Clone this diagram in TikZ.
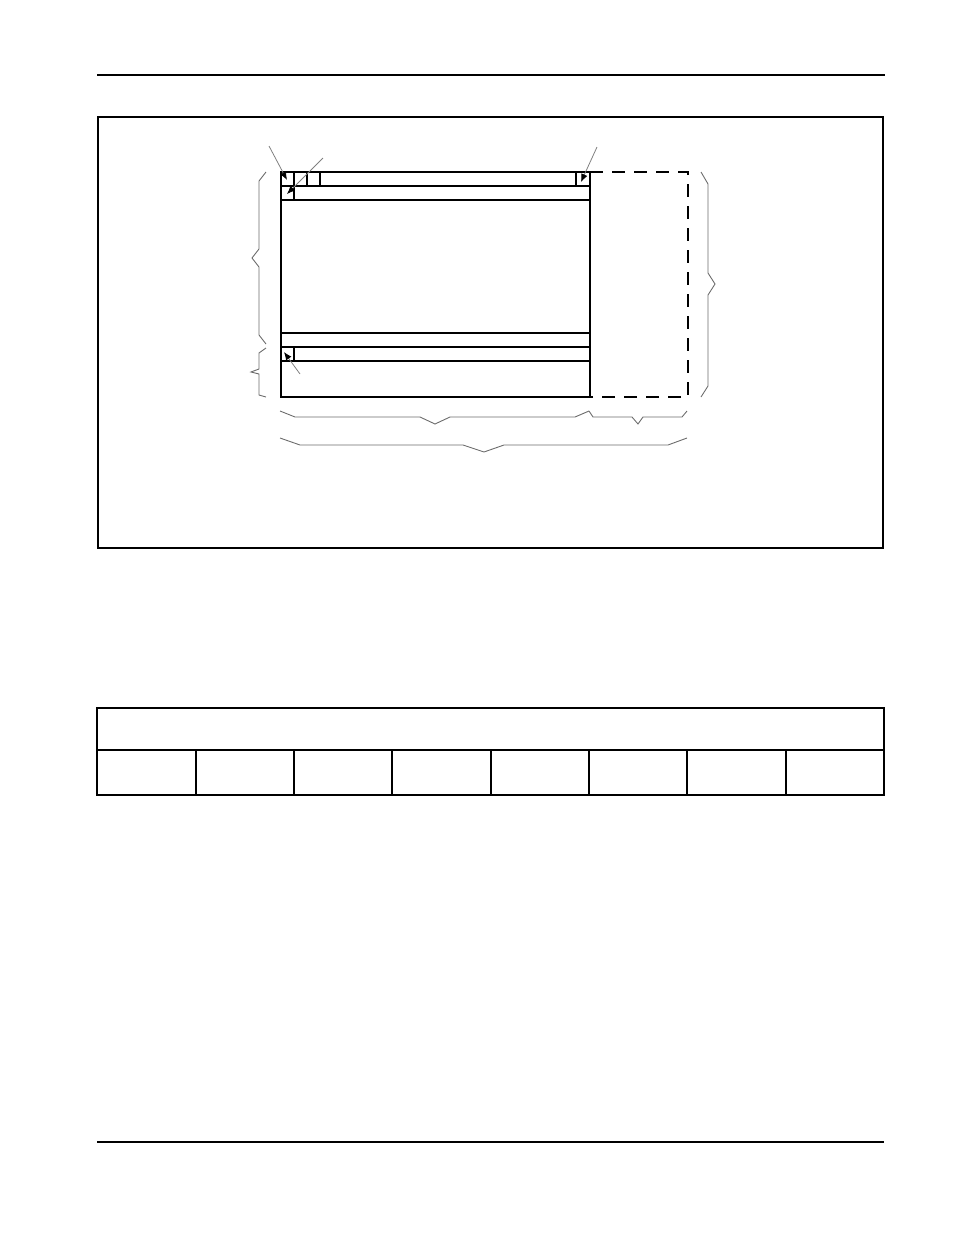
\documentclass[tikz,border=0pt]{standalone}
\usetikzlibrary{arrows.meta}
\begin{document}
\begin{tikzpicture}[x=1pt,y=-1pt,
  frame/.style={draw=black,line width=1.1pt},
  thin/.style={draw=black,line width=1.1pt},
  rule/.style={draw=black,line width=2.5pt},
  brace/.style={draw=gray!85!black,line width=0.9pt,line join=miter},
  dashbox/.style={draw=black,line width=1.3pt,dash pattern=on 13pt off 9pt},
  pointer/.style={draw=gray,line width=0.8pt,-{Latex[black,length=8pt,width=6.5pt]}}]
\useasboundingbox (0,0) rectangle (954,1235);
% page rules
\draw[rule] (97,75) -- (885,75);
\draw[rule] (97,1142) -- (884,1142);
% outer figure box
\draw[frame] (98,117) rectangle (883,548);
% main rectangle
\coordinate (tl) at (281,172);
\coordinate (br) at (590,397);
\draw[thin] (tl) rectangle (br);
\draw[thin] (281,186) -- (590,186);
\draw[thin] (281,200) -- (590,200);
\draw[thin] (294,172) -- (294,200);
\draw[thin] (307,172) -- (307,186);
\draw[thin] (320,172) -- (320,186);
\draw[thin] (576,172) -- (576,186);
\draw[thin] (281,333) -- (590,333);
\draw[thin] (281,347) -- (590,347);
\draw[thin] (281,361) -- (590,361);
\draw[thin] (294,347) -- (294,361);
% dashed extension
\draw[dashbox] (590,172) -- (688,172) -- (688,397) -- (590,397);
% pointers
\coordinate (p1s) at (269,146); \coordinate (p1e) at (287,180);
\coordinate (p2s) at (323,158); \coordinate (p2e) at (287,194);
\coordinate (p3s) at (597,147); \coordinate (p3e) at (581,182);
\coordinate (p4s) at (300,374); \coordinate (p4e) at (284,352);
\draw[pointer] (p1s) -- (p1e);
\draw[pointer] (p2s) -- (p2e);
\draw[pointer] (p3s) -- (p3e);
\draw[pointer] (p4s) -- (p4e);
% left braces
\draw[brace] (266,172) -- (259,181) -- (259,249) -- (252,258) -- (259,267) -- (259,335) -- (266,344);
\draw[brace] (266,348) -- (259,353) -- (259,369) -- (251,372) -- (259,374) -- (259,395) -- (266,397);
% right brace
\draw[brace] (701,172) -- (708,184) -- (708,273) -- (715,284) -- (708,295) -- (708,386) -- (701,397);
% bottom braces
\draw[brace] (280,411) -- (295,417) -- (420,417) -- (435,424) -- (450,417) -- (575,417) -- (589,411);
\draw[brace] (589,411) -- (593,417) -- (632,417) -- (638,424) -- (643,417) -- (682,417) -- (687,411);
\draw[brace] (280,438) -- (300,445) -- (463,445) -- (484,452) -- (504,445) -- (668,445) -- (687,438);
% table
\draw[frame] (97,708) rectangle (884,795);
\draw[frame] (97,750) -- (884,750);
\foreach \x in {196,294,392,491,589,687,786}
  \draw[frame] (\x,750) -- (\x,795);
\end{tikzpicture}
\end{document}
